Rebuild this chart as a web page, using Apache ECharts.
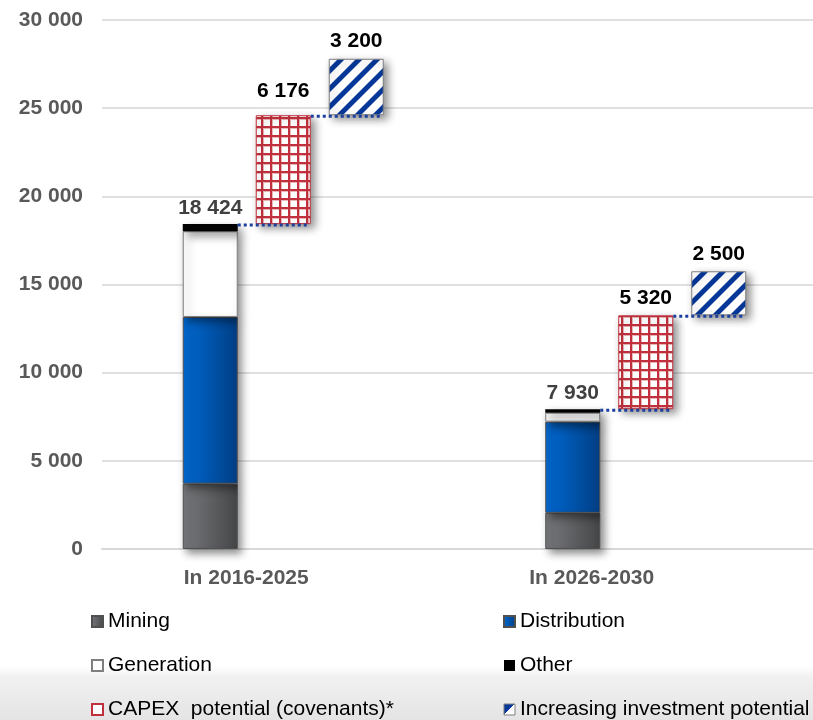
<!DOCTYPE html>
<html>
<head>
<meta charset="utf-8">
<script src="https://cdn.jsdelivr.net/npm/echarts@6/dist/echarts.min.js"></script>
<style>
html, body { margin: 0; padding: 0; background: #fff; }
#chart { width: 813px; height: 720px; }
</style>
</head>
<body>
<div id="chart"></div>
<script>
// values
const categories = ['In 2016-2025', 'In 2026-2030'];
const mining = [3700, 2050];
const distribution = [9460, 5170];
const generation = [4860, 510];
const other = [404, 200];
const capexPotential = [6176, 5320];
const increasePotential = [3200, 2500];
const yMin = 0, yMax = 30000, yStep = 5000;

const FONT = '"Liberation Sans", Arial, sans-serif';
const BAR_W = 55, BAR_GAP = 18;
// category labels sit left of the bar groups in the original
const labelShift = [74, 108];

const fmt = v => String(v).replace(/\B(?=(\d{3})+(?!\d))/g, ' ');

// stack totals and bases for the floating bars
const totals = categories.map((c, i) => mining[i] + distribution[i] + generation[i] + other[i]);
const capexBase = totals.slice();
const incBase = totals.map((t, i) => t + capexPotential[i]);

function gridPattern() {
    const c = document.createElement('canvas');
    c.width = 9; c.height = 9;
    const ctx = c.getContext('2d');
    ctx.fillStyle = '#fff';
    ctx.fillRect(0, 0, 9, 9);
    ctx.fillStyle = '#eab4b8';
    ctx.fillRect(0, 0, 9, 3);
    ctx.fillRect(0, 0, 3, 9);
    ctx.fillStyle = '#c0313d';
    ctx.fillRect(0, 0, 9, 2);
    ctx.fillRect(0, 0, 2, 9);
    return c;
}

function stripePattern() {
    const P = 18;
    const c = document.createElement('canvas');
    c.width = P; c.height = P;
    const ctx = c.getContext('2d');
    const img = ctx.createImageData(P, P);
    for (let y = 0; y < P; y++) {
        for (let x = 0; x < P; x++) {
            const d = (x + y) % P;
            // soft edges
            let a = 0;
            if (d >= 1 && d <= 6) a = 1;
            else if (d === 0 || d === 7) a = 0.5;
            const i = (y * P + x) * 4;
            img.data[i] = Math.round(255 * (1 - a) + 6 * a);
            img.data[i + 1] = Math.round(255 * (1 - a) + 56 * a);
            img.data[i + 2] = Math.round(255 * (1 - a) + 154 * a);
            img.data[i + 3] = 255;
        }
    }
    ctx.putImageData(img, 0, 0);
    return c;
}

const shadow = {
    shadowColor: 'rgba(0,0,0,0.45)',
    shadowBlur: 8,
    shadowOffsetX: 4,
    shadowOffsetY: 4
};

function hGrad(a, b) {
    return { type: 'linear', x: 0, y: 0, x2: 1, y2: 0, colorStops: [{ offset: 0, color: a }, { offset: 1, color: b }] };
}

const legendBase = {
    orient: 'vertical', top: 611, padding: 0, itemGap: 23,
    itemWidth: 11, itemHeight: 11, icon: 'rect', selectedMode: false,
    textStyle: { fontFamily: FONT, fontSize: 21, color: '#000', lineHeight: 20 },
    itemStyle: { shadowBlur: 0, shadowOffsetX: 0, shadowOffsetY: 0, shadowColor: 'transparent' }
};

const chart = echarts.init(document.getElementById('chart'));

const option = {
    animation: false,
    backgroundColor: {
        type: 'linear', x: 0, y: 0, x2: 0, y2: 1,
        colorStops: [
            { offset: 0, color: '#ffffff' },
            { offset: 0.925, color: '#ffffff' },
            { offset: 0.94, color: '#f1f1f1' },
            { offset: 1, color: '#e4e4e4' }
        ]
    },
    grid: { left: 102, right: -14, top: 20, bottom: 171, outerBoundsMode: 'none' },
    legend: [
        Object.assign({}, legendBase, {
            left: 91,
            data: [
                'Mining',
                'Generation',
                { name: 'CAPEX  potential (covenants)*', itemStyle: { color: '#fff', borderColor: '#c0313d', borderWidth: 2 } }
            ]
        }),
        Object.assign({}, legendBase, {
            left: 503,
            data: [
                'Distribution',
                'Other',
                {
                    name: 'Increasing investment potential',
                    itemStyle: {
                        color: { type: 'linear', x: 0, y: 0, x2: 1, y2: 1, colorStops: [
                            { offset: 0, color: '#06389a' }, { offset: 0.5, color: '#06389a' },
                            { offset: 0.5, color: '#fff' }, { offset: 1, color: '#fff' }] },
                        borderColor: '#7f7f7f', borderWidth: 1
                    }
                }
            ]
        })
    ],
    xAxis: {
        type: 'category',
        data: categories.map((c, i) => ({ value: c, textStyle: { padding: [0, labelShift[i], 0, 0] } })),
        axisTick: { show: false },
        axisLine: { lineStyle: { color: '#d9d9d9', width: 2 } },
        axisLabel: {
            fontFamily: FONT, fontSize: 21, fontWeight: 'bold', color: '#595959',
            margin: 19
        }
    },
    yAxis: {
        type: 'value',
        min: yMin, max: yMax, interval: yStep,
        axisLine: { show: false },
        axisTick: { show: false },
        splitLine: { lineStyle: { color: '#e0e0e0', width: 2 } },
        axisLabel: {
            fontFamily: FONT, fontSize: 21, fontWeight: 'bold', color: '#595959',
            margin: 19, formatter: fmt
        }
    },
    series: [
        {
            name: 'Mining', type: 'bar', stack: 'a', barWidth: BAR_W, barGap: (BAR_GAP / BAR_W * 100) + '%',
            data: mining,
            itemStyle: Object.assign({ color: hGrad('#77797c', '#454648'), borderColor: '#505050', borderWidth: 1 }, shadow)
        },
        {
            name: 'Distribution', type: 'bar', stack: 'a', barWidth: BAR_W,
            data: distribution,
            itemStyle: Object.assign({ color: hGrad('#0069d2', '#003e84'), borderColor: '#505050', borderWidth: 1 }, shadow)
        },
        {
            name: 'Generation', type: 'bar', stack: 'a', barWidth: BAR_W,
            data: generation,
            itemStyle: Object.assign({ color: '#ffffff', borderColor: '#7f7f7f', borderWidth: 1 }, shadow)
        },
        {
            name: 'Other', type: 'bar', stack: 'a', barWidth: BAR_W,
            data: other,
            itemStyle: Object.assign({ color: '#000000' }, shadow),
            label: {
                show: true, position: 'top', distance: 5,
                fontFamily: FONT, fontSize: 21, fontWeight: 'bold', color: '#404040',
                formatter: p => fmt(totals[p.dataIndex])
            }
        },
        {
            name: 'capexBase', type: 'bar', stack: 'b', barWidth: BAR_W, silent: true,
            data: capexBase,
            itemStyle: { color: 'transparent' }
        },
        {
            name: 'CAPEX  potential (covenants)*', type: 'bar', stack: 'b', barWidth: BAR_W,
            data: capexPotential.map((v, i) => ({ value: v, label: { distance: i === 0 ? 14 : 7 } })),
            itemStyle: Object.assign({ color: { image: gridPattern(), repeat: 'repeat' }, borderColor: '#c0313d', borderWidth: 1 }, shadow),
            label: {
                show: true, position: 'top',
                fontFamily: FONT, fontSize: 21, fontWeight: 'bold', color: '#000',
                formatter: p => fmt(p.value)
            }
        },
        {
            name: 'incBase', type: 'bar', stack: 'c', barWidth: BAR_W, silent: true,
            data: incBase,
            itemStyle: { color: 'transparent' }
        },
        {
            name: 'Increasing investment potential', type: 'bar', stack: 'c', barWidth: BAR_W,
            data: increasePotential,
            itemStyle: Object.assign({ color: { image: stripePattern(), repeat: 'repeat' }, borderColor: '#7f7f7f', borderWidth: 1 }, shadow),
            label: {
                show: true, position: 'top', distance: 7,
                fontFamily: FONT, fontSize: 21, fontWeight: 'bold', color: '#000',
                formatter: p => fmt(p.value)
            }
        },
        {
            // dotted connectors between the steps
            name: 'connectors', type: 'custom', silent: true, z: 10,
            data: [
                [0, capexBase[0], 0], [0, incBase[0], 1],
                [1, capexBase[1], 0], [1, incBase[1], 1]
            ],
            renderItem: function (params, api) {
                const p = api.coord([api.value(0), api.value(1)]);
                const step = api.value(2);
                const x0 = p[0] + (step - 1) * (BAR_W + BAR_GAP) + BAR_W / 2;
                const x1 = x0 + BAR_W + BAR_GAP - 2;
                return {
                    type: 'line',
                    shape: { x1: x0, y1: p[1] + 1, x2: x1, y2: p[1] + 1 },
                    style: { stroke: '#1b3f9c', lineWidth: 3, lineDash: [3, 3] }
                };
            }
        }
    ]
};

chart.setOption(option);
</script>
</body>
</html>
